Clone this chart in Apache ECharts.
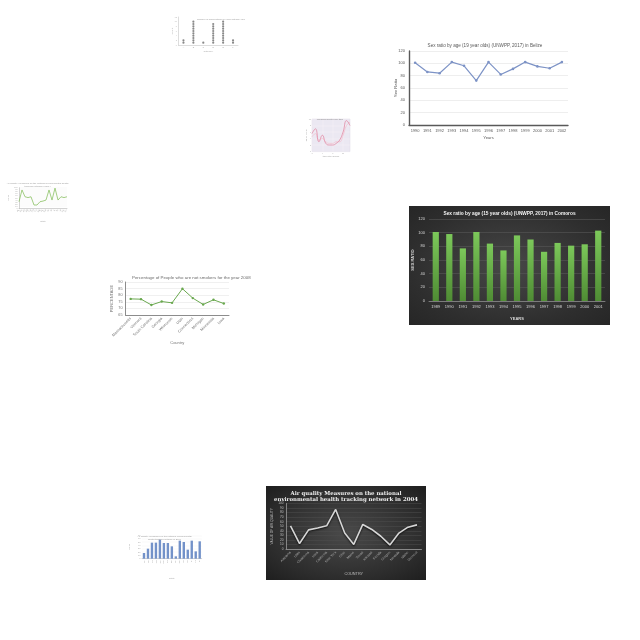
<!DOCTYPE html>
<html><head><meta charset="utf-8">
<script src="https://cdn.jsdelivr.net/npm/echarts@6/dist/echarts.min.js"></script>
<style>
html,body{margin:0;padding:0;background:#fff;width:640px;height:640px;overflow:hidden;}
.c{position:absolute;}
#belize{left:390px;top:35px;width:190px;height:108px;}
#comoros{left:409px;top:206px;width:201px;height:119px;background:radial-gradient(ellipse at center,#474747 0%,#2e2e2e 70%,#262626 100%);}
#air{left:266px;top:486px;width:160px;height:94px;background:radial-gradient(ellipse at center,#4a4a4a 0%,#2c2c2c 70%,#1e1e1e 100%);}
#smoke{left:105px;top:268px;width:155px;height:82px;}
#dots{left:165px;top:10px;width:80px;height:45px;}
#pink{left:300px;top:110px;width:60px;height:50px;}
#green{left:0px;top:175px;width:75px;height:50px;}
#blue{left:122px;top:528px;width:85px;height:55px;}
</style></head>
<body>
<div class="c" id="dots"></div>
<div class="c" id="belize"></div>
<div class="c" id="pink"></div>
<div class="c" id="green"></div>
<div class="c" id="comoros"></div>
<div class="c" id="smoke"></div>
<div class="c" id="air"></div>
<div class="c" id="blue"></div>
<script>
// ---- data ----
const belizeYears = ['1990','1991','1992','1993','1994','1995','1996','1997','1998','1999','2000','2001','2002'];
const belizeRatio = [101, 86, 84, 102, 96, 72, 102, 82, 91, 102, 95, 92, 102];

const comorosYears = ['1989','1990','1991','1992','1993','1994','1995','1996','1997','1998','1999','2000','2001'];
const comorosRatio = [101, 98, 77, 101, 84, 74, 96, 90, 72, 85, 81, 83, 103];

const airCountries = ['Alabama','Utah','Oklahoma','Iowa','California','New York','Ohio','Maine','Texas','Kansas','Florida','Oregon','Nevada','Idaho','Vermont'];
const airValues = [51, 12, 42, 46, 51, 87, 35, 10, 54, 43, 28, 9, 35, 48, 53];

const smokeStates = ['Massachusetts','Vermont','South Carolina','Georgia','Wisconsin','Utah','Connecticut','Michigan','Minnesota','Iowa'];
const smokePct = [77.2, 77.0, 72.6, 75.2, 74.2, 84.9, 77.8, 73.0, 76.5, 73.7];

const dotGroups = ['A','B','C','D','E','F'];
const dotCounts = [2, 10, 1, 9, 10, 2];

const pinkX = ['1','2','3','4','5','6','7','8','9','10','11','12'];
const pinkA = [5.5, 7.0, 3.0, 5.0, 2.5, 2.0, 2.0, 2.5, 3.5, 6.0, 9.5, 8.0];
const pinkB = [4.5, 5.5, 3.5, 4.0, 3.0, 2.5, 2.5, 3.0, 3.0, 5.0, 8.0, 9.0];

const greenX = ['AL','AK','AZ','AR','CA','CO','CT','DE','FL','GA','HI','ID','IL','IN','IA','KS','KY'];
const greenY = [32, 89, 56, 52, 56, 16, 16, 32, 35, 40, 89, 40, 98, 40, 56, 52, 56];

const blueX = ['AL','AK','AZ','AR','CA','CO','CT','DE','FL','GA','HI','ID','IL','IN','IA'];
const blueY = [17, 30, 48, 48, 57, 47, 47, 37, 7, 54, 50, 27, 54, 22, 52];

// ---- charts ----
const F = 'Liberation Sans, Arial, sans-serif';
const G = (o) => Object.assign({outerBoundsMode:'none',containLabel:false}, o);
const A = (o) => Object.assign({nameMoveOverlap:false}, o);

// Belize line chart
echarts.init(document.getElementById('belize')).setOption({
  animation:false,
  title:{text:'Sex ratio by age (19 year olds) (UNWPP, 2017) in Belize',left:'center',top:3,
    textStyle:{fontSize:4.6,color:'#595959',fontWeight:'normal',fontFamily:F}},
  grid:G({left:19,right:12,top:16,bottom:18}),
  xAxis:A({type:'category',data:belizeYears,boundaryGap:true,
    name:'Years',nameLocation:'middle',nameGap:11,nameTextStyle:{fontSize:4.2,color:'#595959',fontFamily:F},
    axisLine:{lineStyle:{color:'#595959',width:1.4}},axisTick:{show:false},
    axisLabel:{fontSize:4,color:'#595959',margin:4,fontFamily:F,interval:0}}),
  yAxis:A({type:'value',min:0,max:120,interval:20,
    name:'Sex Ratio',nameLocation:'middle',nameGap:11,nameTextStyle:{fontSize:4.2,color:'#595959',fontFamily:F},
    axisLine:{show:true,lineStyle:{color:'#595959',width:1.4}},axisTick:{show:false},
    splitLine:{lineStyle:{color:'#e3e3e3',width:0.6}},
    axisLabel:{fontSize:4,color:'#595959',margin:4,fontFamily:F}}),
  series:[{type:'line',data:belizeRatio,symbol:'circle',symbolSize:2.6,
    lineStyle:{color:'#7d93c6',width:1.2},itemStyle:{color:'#7d93c6'}}]
});

// Comoros bar chart
echarts.init(document.getElementById('comoros')).setOption({
  animation:false,
  title:{text:'Sex ratio by age (15 year olds) (UNWPP, 2017) in Comoros',left:'center',top:0.5,
    textStyle:{fontSize:4.8,color:'#f2f2f2',fontWeight:'bold',fontFamily:F}},
  grid:G({left:20,right:5,top:13,bottom:24}),
  xAxis:A({type:'category',data:comorosYears,
    name:'YEARS',nameLocation:'middle',nameGap:16,nameTextStyle:{fontSize:4,color:'#d9d9d9',fontWeight:'bold',fontFamily:F},
    axisLine:{lineStyle:{color:'#8a8a8a',width:0.8}},axisTick:{show:false},
    axisLabel:{fontSize:4,color:'#d9d9d9',margin:4,fontFamily:F,interval:0}}),
  yAxis:A({type:'value',min:0,max:120,interval:20,
    name:'SEX RATIO',nameLocation:'middle',nameGap:14,nameTextStyle:{fontSize:4,color:'#d9d9d9',fontWeight:'bold',fontFamily:F},
    axisLine:{show:false},axisTick:{show:false},
    splitLine:{lineStyle:{color:'#585858',width:0.6}},
    axisLabel:{fontSize:4,color:'#d9d9d9',margin:4,fontFamily:F}}),
  series:[{type:'bar',data:comorosRatio,barWidth:'46%',
    itemStyle:{color:new echarts.graphic.LinearGradient(0,0,0,1,[{offset:0,color:'#7cc85a'},{offset:1,color:'#4f8c34'}])}}]
});

// Air quality dark line chart
echarts.init(document.getElementById('air')).setOption({
  animation:false,
  title:{text:'Air quality Measures on the national\nenvironmental health tracking network in 2004',left:'center',top:0,
    textStyle:{fontSize:5.4,lineHeight:6,color:'#f0f0f0',fontWeight:'bold',fontFamily:'DejaVu Serif, Liberation Serif, serif'}},
  grid:G({left:20,right:4.5,top:17.5,bottom:31}),
  xAxis:A({type:'category',data:airCountries,boundaryGap:true,
    name:'COUNTRY',nameLocation:'middle',nameGap:23,nameTextStyle:{fontSize:3.8,color:'#bfbfbf',fontFamily:F},
    axisLine:{lineStyle:{color:'#9a9a9a',width:0.8}},axisTick:{show:false},
    axisLabel:{fontSize:3.4,color:'#a8a8a8',rotate:45,margin:3,fontFamily:F,interval:0}}),
  yAxis:A({type:'value',min:0,max:100,interval:10,
    name:'VALUE OF AIR QUALITY',nameLocation:'middle',nameGap:12,nameTextStyle:{fontSize:3.2,color:'#bfbfbf',fontFamily:F},
    axisLine:{show:true,lineStyle:{color:'#9a9a9a',width:0.8}},axisTick:{show:false},
    splitLine:{lineStyle:{color:'#4f4f4f',width:0.5}},
    axisLabel:{fontSize:3.2,color:'#bfbfbf',margin:2.5,fontFamily:F}}),
  series:[{type:'line',data:airValues,symbol:'none',
    lineStyle:{color:'#d6d6d6',width:1.6,shadowColor:'rgba(0,0,0,0.8)',shadowBlur:2,shadowOffsetY:1}}]
});

// Non-smokers line chart
echarts.init(document.getElementById('smoke')).setOption({
  animation:false,
  title:{text:'Percentage of People who are not smokers for the year 2008',left:22,top:3,
    textStyle:{fontSize:4.4,color:'#6b6b6b',fontWeight:'normal',fontFamily:F}},
  grid:G({left:20.5,right:31,top:14,bottom:35}),
  xAxis:A({type:'category',data:smokeStates,boundaryGap:true,
    name:'Country',nameLocation:'middle',nameGap:26,nameTextStyle:{fontSize:4,color:'#777',fontFamily:F},
    axisLine:{lineStyle:{color:'#8c8c8c',width:1}},axisTick:{show:false},
    axisLabel:{fontSize:3.8,color:'#777',rotate:45,margin:3,fontFamily:F,interval:0}}),
  yAxis:A({type:'value',min:65,max:90,interval:5,
    name:'PERCENTAGE',nameLocation:'middle',nameGap:11.5,nameTextStyle:{fontSize:4,color:'#777',fontFamily:F},
    axisLine:{show:true,lineStyle:{color:'#8c8c8c',width:1}},axisTick:{show:false},
    splitLine:{lineStyle:{color:'#e6e6e6',width:0.6}},
    axisLabel:{fontSize:3.8,color:'#777',margin:3,fontFamily:F}}),
  series:[{type:'line',data:smokePct,symbol:'circle',symbolSize:2.4,
    lineStyle:{color:'#6aa84f',width:1},itemStyle:{color:'#6aa84f'}}]
});

// Dot plot (stacked dots built from counts)
const dotPoints = [];
dotCounts.forEach((n,i)=>{ for(let k=1;k<=n;k++) dotPoints.push([i,k]); });
echarts.init(document.getElementById('dots')).setOption({
  animation:false,
  title:{text:'Number of observations in each category group',left:27,top:3,
    textStyle:{fontSize:2.4,color:'#9a9a9a',fontWeight:'normal',fontFamily:F}},
  grid:G({left:13.5,right:7,top:7,bottom:10}),
  xAxis:A({type:'category',data:dotGroups,boundaryGap:true,
    name:'Category',nameLocation:'middle',nameGap:5,nameTextStyle:{fontSize:2.4,color:'#aaa',fontFamily:F},
    axisLine:{lineStyle:{color:'#bbb',width:0.5}},axisTick:{show:false},
    axisLabel:{fontSize:2.2,color:'#aaa',margin:1.5,fontFamily:F}}),
  yAxis:A({type:'value',min:0,max:12,interval:2,
    name:'Count',nameLocation:'middle',nameGap:5,nameTextStyle:{fontSize:2.4,color:'#aaa',fontFamily:F},
    axisLine:{show:true,lineStyle:{color:'#bbb',width:0.5}},axisTick:{show:false},
    splitLine:{show:false},
    axisLabel:{fontSize:2.2,color:'#bbb',margin:1.5,fontFamily:F}}),
  series:[{type:'scatter',data:dotPoints,symbol:'circle',symbolSize:2.2,itemStyle:{color:'#6a6a6a'}}]
});

// Small pink line chart
echarts.init(document.getElementById('pink')).setOption({
  animation:false,
  title:{text:'Measurements over time',left:'center',top:3,
    textStyle:{fontSize:2.4,color:'#888',fontWeight:'normal',fontFamily:F}},
  grid:G({left:12,right:10,top:9,bottom:8.5,show:true,backgroundColor:'#ebe8f2',borderColor:'#dcd8e6',borderWidth:0.5}),
  xAxis:A({type:'category',data:pinkX,boundaryGap:false,
    name:'time step (hours)',nameLocation:'middle',nameGap:4,nameTextStyle:{fontSize:2.2,color:'#999',fontFamily:F},
    axisLine:{show:false},axisTick:{show:false},
    splitLine:{show:true,lineStyle:{color:'#f7f6fa',width:0.4}},
    axisLabel:{fontSize:2,color:'#aaa',margin:1,fontFamily:F,interval:2}}),
  yAxis:A({type:'value',min:0,max:10,interval:2,
    name:'value (units)',nameLocation:'middle',nameGap:5,nameTextStyle:{fontSize:2.2,color:'#999',fontFamily:F},
    axisLine:{show:false},axisTick:{show:false},
    splitLine:{lineStyle:{color:'#f7f6fa',width:0.4}},
    axisLabel:{fontSize:2,color:'#aaa',margin:1,fontFamily:F}}),
  series:[
    {type:'line',data:pinkB,symbol:'none',smooth:true,lineStyle:{color:'#f2c4d2',width:0.8}},
    {type:'line',data:pinkA,symbol:'none',smooth:true,lineStyle:{color:'#e28aa4',width:0.8}}
  ]
});

// Small green line chart
echarts.init(document.getElementById('green')).setOption({
  animation:false,
  title:{text:'Air quality: Measures on the national environmental health\ntracking network in 2004',left:'center',top:2,
    textStyle:{fontSize:2.4,lineHeight:3,color:'#9a9a9a',fontWeight:'normal',fontFamily:F}},
  grid:G({left:19,right:8,top:12.7,bottom:16.7}),
  xAxis:A({type:'category',data:greenX,boundaryGap:false,
    name:'State',nameLocation:'middle',nameGap:12,nameTextStyle:{fontSize:2.4,color:'#aaa',fontFamily:F},
    axisLine:{lineStyle:{color:'#aaa',width:0.5}},axisTick:{show:false},
    axisLabel:{fontSize:2.2,color:'#aaa',rotate:45,margin:1.5,fontFamily:F,interval:0}}),
  yAxis:A({type:'value',min:0,max:100,interval:10,
    name:'Value',nameLocation:'middle',nameGap:10,nameTextStyle:{fontSize:2.4,color:'#aaa',fontFamily:F},
    axisLine:{show:true,lineStyle:{color:'#aaa',width:0.5}},axisTick:{show:false},
    splitLine:{lineStyle:{color:'#eeeeee',width:0.4}},
    axisLabel:{fontSize:2,color:'#aaa',margin:1.5,fontFamily:F}}),
  series:[{type:'line',data:greenY,symbol:'none',lineStyle:{color:'#8cc265',width:0.8}}]
});

// Small blue bar chart
echarts.init(document.getElementById('blue')).setOption({
  animation:false,
  title:{text:'Air quality: Measures on the national environmental\nhealth tracking network in 2004',left:'center',top:2,
    textStyle:{fontSize:2.4,lineHeight:3,color:'#9a9a9a',fontWeight:'normal',fontFamily:F}},
  grid:G({left:20,right:5.3,top:7.3,bottom:24.3}),
  xAxis:A({type:'category',data:blueX,
    name:'State',nameLocation:'middle',nameGap:19,nameTextStyle:{fontSize:2.4,color:'#aaa',fontFamily:F},
    axisLine:{lineStyle:{color:'#aaa',width:0.5}},axisTick:{show:false},
    axisLabel:{fontSize:2.2,color:'#aaa',rotate:90,margin:1.5,fontFamily:F,interval:0}}),
  yAxis:A({type:'value',min:0,max:70,interval:10,
    name:'Value',nameLocation:'middle',nameGap:12,nameTextStyle:{fontSize:2.4,color:'#aaa',fontFamily:F},
    axisLine:{show:false},axisTick:{show:false},
    splitLine:{lineStyle:{color:'#eeeeee',width:0.4}},
    axisLabel:{fontSize:2.2,color:'#aaa',margin:1.5,fontFamily:F}}),
  series:[{type:'bar',data:blueY,barWidth:'60%',itemStyle:{color:'#7392c9'}}]
});
</script>
</body></html>
